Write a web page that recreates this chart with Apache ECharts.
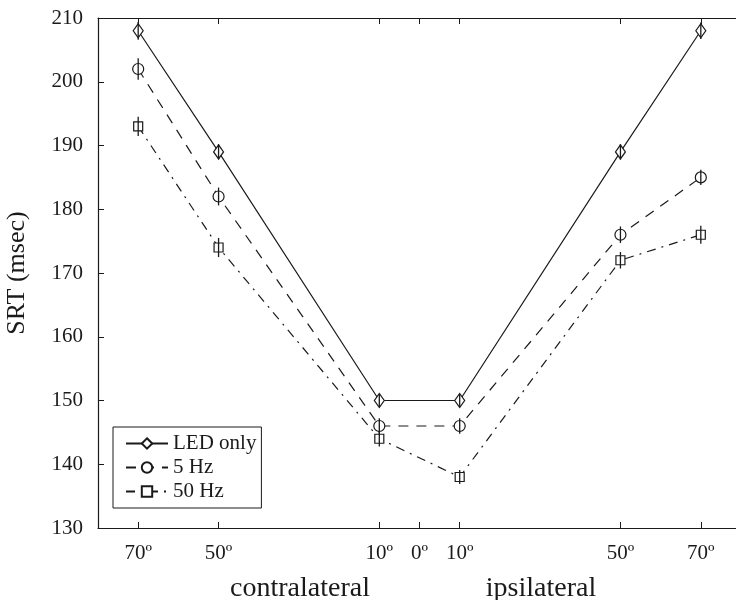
<!DOCTYPE html>
<html>
<head>
<meta charset="utf-8">
<script src="https://cdn.jsdelivr.net/npm/echarts@6/dist/echarts.min.js"></script>
<style>
  html, body { margin: 0; padding: 0; background: #fff; }
  #chart { width: 736px; height: 600px; }
</style>
</head>
<body>
<div id="chart"></div>
<script>
// eccentricity in degrees: negative = contralateral, positive = ipsilateral
const positions = [-70, -50, -10, 10, 50, 70]
const xTicks = [-70, -50, -10, 0, 10, 50, 70]

const ledOnly = [208, 189, 150, 150, 189, 208]
const hz5 = [202, 182, 146, 146, 176, 185]
const hz50 = [193, 174, 144, 138, 172, 176]

// half length of the vertical error bars (msec)
const errLed = [1.4, 1.2, 1.0, 1.0, 1.2, 1.3]
const err5 = [1.7, 1.4, 1.2, 1.2, 1.3, 1.2]
const err50 = [1.5, 1.5, 1.2, 1.1, 1.3, 1.4]

const ink = "#1a1a1a"
const serif = "'Liberation Serif', 'DejaVu Serif', serif"

const pairs = (vals) => positions.map((x, i) => [x, vals[i]])

const lineSeries = (name, vals, symbol, symbolSize, dash) => ({
  name,
  type: "line",
  data: pairs(vals),
  symbol,
  symbolSize,
  showSymbol: true,
  animation: false,
  z: 2,
  lineStyle: { color: ink, width: 1.2, type: dash },
  itemStyle: { color: "#fff", borderColor: ink, borderWidth: 1.2 }
})

const errSeries = (vals, errs) => ({
  type: "custom",
  silent: true,
  animation: false,
  z: 5,
  data: positions.map((x, i) => [x, vals[i] - errs[i], vals[i] + errs[i]]),
  renderItem: (params, api) => {
    const lo = api.coord([api.value(0), api.value(1)])
    const hi = api.coord([api.value(0), api.value(2)])
    return {
      type: "line",
      shape: { x1: lo[0], y1: lo[1], x2: hi[0], y2: hi[1] },
      style: { stroke: ink, lineWidth: 1.3 }
    }
  }
})

const chart = echarts.init(document.getElementById("chart"))

const option = {
  backgroundColor: "#fff",
  animation: false,
  grid: { left: 98, top: 18, bottom: 72, right: -5, outerBoundsMode: "none", containLabel: false },
  legend: {
    orient: "vertical",
    left: 113,
    top: 427,
    data: ["LED only", "5 Hz", "50 Hz"],
    borderColor: ink,
    borderWidth: 1,
    borderRadius: 0,
    padding: [6, 5, 6, 12],
    itemWidth: 42,
    itemHeight: 13,
    itemGap: 3,
    selectedMode: false,
    textStyle: { fontFamily: serif, fontSize: 21, color: ink, lineHeight: 21 }
  },
  xAxis: [{
    type: "value",
    min: -80,
    max: 80,
    splitLine: { show: false },
    axisLine: { onZero: false, lineStyle: { color: ink, width: 1.2 } },
    axisTick: { inside: true, length: 6, customValues: xTicks, lineStyle: { color: ink } },
    axisLabel: {
      customValues: xTicks,
      formatter: v => Math.abs(v) + "º",
      fontFamily: serif,
      fontSize: 21,
      color: ink,
      margin: 15
    }
  }, {
    type: "value",
    position: "top",
    min: -80,
    max: 80,
    splitLine: { show: false },
    axisLine: { onZero: false, lineStyle: { color: ink, width: 1.2 } },
    axisTick: { inside: true, length: 6, customValues: xTicks, lineStyle: { color: ink } },
    axisLabel: { show: false }
  }],
  yAxis: {
    type: "value",
    min: 130,
    max: 210,
    interval: 10,
    name: "SRT (msec)",
    nameLocation: "middle",
    nameGap: 68,
    nameTextStyle: { fontFamily: serif, fontSize: 26, color: ink },
    splitLine: { show: false },
    axisLine: { show: true, onZero: false, lineStyle: { color: ink, width: 1.2 } },
    axisTick: { inside: true, length: 6, lineStyle: { color: ink } },
    axisLabel: { fontFamily: serif, fontSize: 21, color: ink, margin: 15 }
  },
  graphic: [
    { type: "text", x: 300, y: 575, style: { text: "contralateral", font: "28px " + serif, fill: ink, align: "center" } },
    { type: "text", x: 541, y: 575, style: { text: "ipsilateral", font: "28px " + serif, fill: ink, align: "center" } }
  ],
  series: [
    lineSeries("LED only", ledOnly, "diamond", [10, 14], "solid"),
    lineSeries("5 Hz", hz5, "circle", 11, [10, 8]),
    lineSeries("50 Hz", hz50, "rect", 9, [9, 6, 2, 6]),
    errSeries(ledOnly, errLed),
    errSeries(hz5, err5),
    errSeries(hz50, err50)
  ]
}

chart.setOption(option)
</script>
</body>
</html>
